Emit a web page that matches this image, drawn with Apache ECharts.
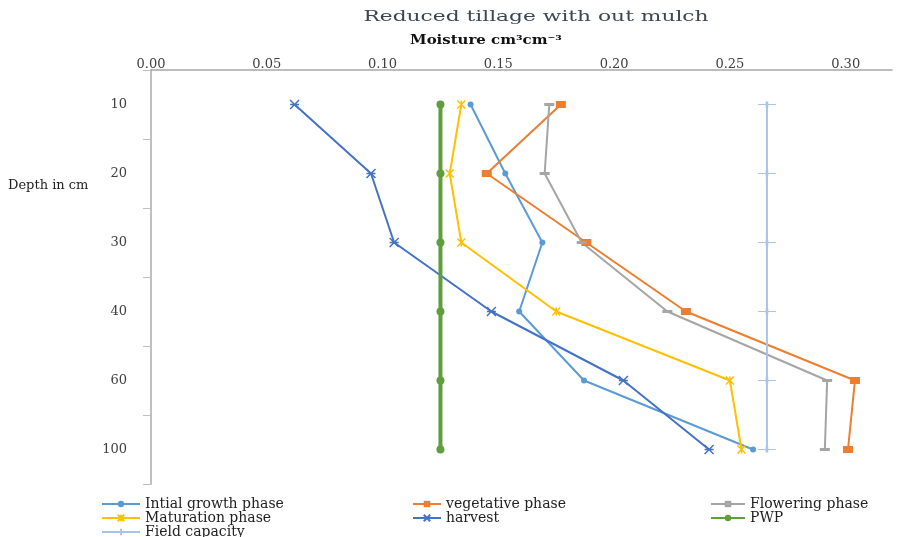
<!DOCTYPE html>
<html>
<head>
<meta charset="utf-8">
<script src="https://cdn.jsdelivr.net/npm/echarts@6/dist/echarts.min.js"></script>
<style>
  html, body { margin: 0; padding: 0; background: #fff; }
  #chart { width: 901px; height: 537px; }
</style>
</head>
<body>
<div id="chart"></div>
<script>
  // depth categories (cm), top to bottom
  const depths = ['10', '20', '30', '40', '60', '100']

  // moisture cm3/cm3
  const initialGrowth = [0.138, 0.153, 0.169, 0.159, 0.187, 0.260]
  const vegetative = [0.177, 0.145, 0.188, 0.231, 0.304, 0.301]
  const flowering = [0.172, 0.170, 0.186, 0.223, 0.292, 0.291]
  const maturation = [0.134, 0.129, 0.134, 0.175, 0.250, 0.255]
  const harvest = [0.062, 0.095, 0.105, 0.147, 0.204, 0.241]
  const pwp = [0.125, 0.125, 0.125, 0.125, 0.125, 0.125]
  const fieldCapacity = [0.266, 0.266, 0.266, 0.266, 0.266, 0.266]

  const font = 'DejaVu Serif'
  const starPath = 'path://M0,0L10,10M10,0L0,10M5,0L5,10'
  const xPath = 'path://M0,0L10,10M10,0L0,10M0,5L10,5'
  const plusPath = 'path://M0,5L20,5M10,3L10,7'

  const toPairs = vals => vals.map((v, i) => [v, depths[i]])

  const makeSeries = (name, vals, color, symbol, size, width, stroke) => ({
    name: name,
    type: 'line',
    data: toPairs(vals),
    symbol: symbol,
    symbolSize: size,
    showAllSymbol: true,
    lineStyle: { color: color, width: width },
    itemStyle: stroke
      ? { color: color, borderColor: color, borderWidth: 1.5 }
      : { color: color },
    emphasis: { disabled: true },
    z: 3
  })

  const legendText = { fontFamily: font, fontSize: 14, color: '#222', lineHeight: 12 }

  const chart = echarts.init(document.getElementById('chart'))

  const option = {
    animation: false,
    textStyle: { fontFamily: font },
    graphic: [
      {
        type: 'text', x: 536, y: 17, scaleX: 1.45,
        style: { text: 'Reduced tillage with out mulch', font: '15px "DejaVu Serif"', fill: '#3b4652', textAlign: 'center', textVerticalAlign: 'middle' }
      },
      {
        type: 'text', x: 486, y: 41, scaleX: 1.15,
        style: { text: 'Moisture cm³cm⁻³', font: 'bold 13px "DejaVu Serif"', fill: '#111', textAlign: 'center', textVerticalAlign: 'middle' }
      },
      {
        type: 'text', x: 8, y: 186,
        style: { text: 'Depth in cm', font: '13px "DejaVu Serif"', fill: '#222', textAlign: 'left', textVerticalAlign: 'middle' }
      }
    ],
    grid: { left: 151, right: 9, top: 70, bottom: 53 },
    xAxis: {
      type: 'value',
      position: 'top',
      min: 0,
      max: 0.32,
      interval: 0.05,
      axisLine: { show: true, onZero: false, lineStyle: { color: '#a6a6a6', width: 1.5 } },
      axisTick: { show: false },
      splitLine: { show: false },
      axisLabel: {
        showMaxLabel: false,
        margin: -1,
        color: '#404040',
        fontFamily: font,
        fontSize: 13,
        formatter: v => v.toFixed(2)
      }
    },
    yAxis: {
      type: 'category',
      inverse: true,
      data: depths,
      offset: 12,
      axisLine: { show: true, lineStyle: { color: '#bfbfbf', width: 2 } },
      axisTick: { show: true, length: 8, lineStyle: { color: '#bfbfbf' } },
      axisLabel: { margin: 12, color: '#404040', fontFamily: font, fontSize: 13 }
    },
    legend: [
      {
        orient: 'vertical', left: 101, top: 497, height: 60, padding: 0, itemGap: 0, itemWidth: 38, itemHeight: 8,
        textStyle: legendText,
        data: ['Intial growth phase', 'Maturation phase', 'Field capacity']
      },
      {
        orient: 'vertical', left: 412, top: 497, height: 60, padding: 0, itemGap: 0, itemWidth: 28, itemHeight: 8,
        textStyle: legendText,
        data: ['vegetative phase', 'harvest']
      },
      {
        orient: 'vertical', left: 710, top: 497, height: 60, padding: 0, itemGap: 0, itemWidth: 34, itemHeight: 8,
        textStyle: legendText,
        data: ['Flowering phase', 'PWP']
      }
    ],
    series: [
      makeSeries('Intial growth phase', initialGrowth, '#5b9bd5', 'circle', 6, 2, false),
      makeSeries('vegetative phase', vegetative, '#ed7d31', 'rect', [10, 7], 2, false),
      makeSeries('Flowering phase', flowering, '#a5a5a5', 'rect', [10, 3], 2, false),
      makeSeries('Maturation phase', maturation, '#ffc000', starPath, 8, 2, true),
      makeSeries('harvest', harvest, '#4472c4', xPath, 9, 2, true),
      makeSeries('PWP', pwp, '#5e9e3c', 'circle', 8, 4, false),
      makeSeries('Field capacity', fieldCapacity, '#a9c4e6', plusPath, [18, 6], 2, true)
    ]
  }

  chart.setOption(option)
</script>
</body>
</html>
